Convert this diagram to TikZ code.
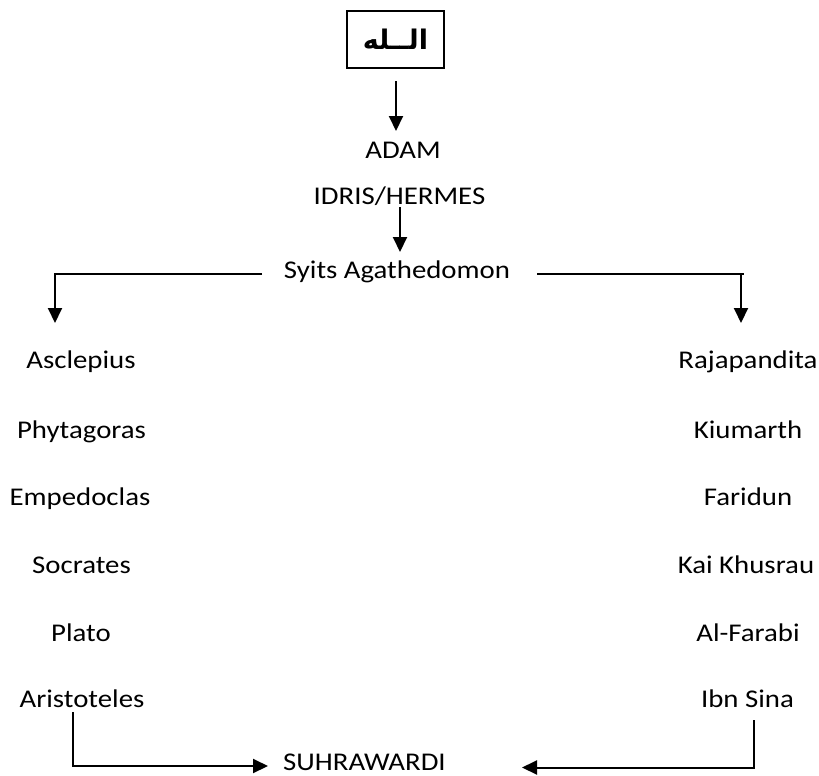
\documentclass[tikz,border=0pt]{standalone}
\usepackage{fontspec}
\setmainfont{Carlito}[FakeStretch=1.13]
\newfontfamily\arabicfont[Script=Arabic]{DejaVu Sans}
\TeXXeTstate=1
\usetikzlibrary{arrows.meta}
\begin{document}
\begin{tikzpicture}[x=1pt,y=-1pt,
  font=\fontsize{25.5}{30}\selectfont,
  lbl/.style={inner sep=0pt, anchor=base},
  conn/.style={line width=2pt},
  arr/.style={conn, -{Triangle[width=14pt,length=15pt]}}]
\useasboundingbox (0,0) rectangle (819,776);
\node[draw, line width=1.3pt, minimum width=97pt, minimum height=57pt, inner sep=0pt] (allah) at (395.5,39.5)
  {\arabicfont\bfseries\fontsize{27}{30}\selectfont\beginR الــله\endR};
\node[lbl] (adam) at (403,158) {ADAM};
\node[lbl] (idris) at (399.5,204.5) {IDRIS/HERMES};
\node[lbl] (syits) at (397,278.5) {Syits Agathedomon};
% left column
\node[lbl] (asc) at (81,368) {Asclepius};
\node[lbl] (phy) at (81.5,438.5) {Phytagoras};
\node[lbl] (emp) at (80,505) {Empedoclas};
\node[lbl] (soc) at (81.5,573) {Socrates};
\node[lbl] (pla) at (81,641) {Plato};
\node[lbl] (ari) at (82,707.5) {Aristoteles};
% right column
\node[lbl] (raj) at (748,368) {Rajapandita};
\node[lbl] (kiu) at (748,438.5) {Kiumarth};
\node[lbl] (far) at (748,505) {Faridun};
\node[lbl] (kai) at (746,573) {Kai Khusrau};
\node[lbl] (alf) at (748,641) {Al-Farabi};
\node[lbl] (ibn) at (747.5,707.5) {Ibn Sina};
\node[lbl, anchor=base west, text depth=0pt] (suh) at (283,770) {SUHRAWARDI};
% connector end points
\coordinate (a1) at (396,81);
\coordinate (a2) at (396,131);
\coordinate (b1) at (400,207);
\coordinate (b2) at (400,252);
\coordinate (l0) at (262,274);
\coordinate (l1) at (55,274);
\coordinate (l2) at (55,323);
\coordinate (r0) at (537,274);
\coordinate (r1) at (744,274);
\coordinate (r2) at (741,274);
\coordinate (r3) at (741,323);
\coordinate (s1) at (73,712);
\coordinate (s2) at (268,766);
\coordinate (t1) at (754,720);
\coordinate (t2) at (522,767.5);
\draw[arr] (a1) -- (a2);
\draw[arr] (b1) -- (b2);
\draw[conn] (l0) -- (l1);
\draw[arr] ([yshift=1pt]l1) -- (l2);
\draw[conn] (r0) -- (r1);
\draw[arr] ([yshift=1pt]r2) -- (r3);
\draw[arr] (s1) |- (s2);
\draw[arr] (t1) |- (t2);
\end{tikzpicture}
\end{document}
